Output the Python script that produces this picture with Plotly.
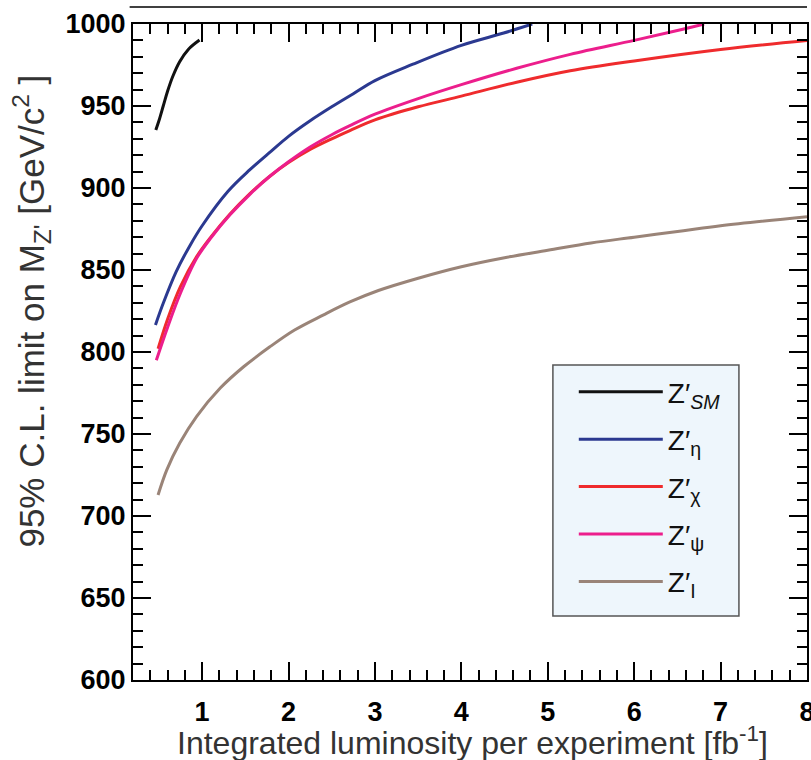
import plotly.graph_objects as go

# ---- data ----
sm_x = [0.464, 0.50, 0.55, 0.60, 0.66, 0.74, 0.84, 0.97]
sm_y = [935.4, 941.0, 950.0, 959.0, 968.0, 977.0, 984.5, 990.2]

eta_x = [0.46, 0.55, 0.70, 0.86, 1.0, 1.3, 1.55, 1.8, 2.0, 2.25, 2.5, 2.75, 3.0, 3.44, 4.0, 4.49, 4.82]
eta_y = [816.5, 829.7, 849.0, 865.0, 877.0, 898.0, 911.0, 922.5, 931.5, 941.0, 949.5, 957.5, 965.5, 975.5, 987.0, 994.5, 1000.0]

chi_x = [0.49, 0.6, 0.75, 0.935, 1.1, 1.32, 1.55, 1.78, 2.0, 2.25, 2.5, 2.71, 3.0, 3.5, 4.0, 4.64, 5.26, 6.0, 7.0, 8.0]
chi_y = [802.0, 820.0, 840.0, 858.0, 870.0, 884.0, 896.5, 907.0, 915.5, 923.5, 930.0, 935.0, 941.5, 949.5, 956.0, 964.5, 971.5, 977.5, 984.5, 990.0]

psi_x = [0.47, 0.6, 0.75, 0.935, 1.1, 1.32, 1.55, 1.78, 2.0, 2.25, 2.5, 2.71, 3.0, 3.5, 4.0, 4.64, 5.26, 6.0, 6.5, 6.81]
psi_y = [795.0, 815.0, 836.0, 857.0, 869.5, 883.5, 896.0, 907.0, 916.0, 925.0, 932.5, 938.0, 945.0, 954.5, 963.0, 973.0, 981.5, 990.0, 996.0, 1000.0]

i_x = [0.49, 0.59, 0.74, 0.935, 1.21, 1.48, 1.78, 2.07, 2.4, 2.71, 3.04, 3.5, 4.0, 4.5, 5.0, 5.5, 6.0, 6.57, 7.0, 8.0]
i_y = [712.8, 728.0, 744.3, 760.6, 778.0, 791.0, 803.0, 813.4, 822.5, 830.5, 837.5, 845.0, 852.0, 857.5, 862.0, 866.5, 870.0, 874.0, 877.0, 882.5]

series_names = ["Z′<sub><i>SM</i></sub>", "Z′<sub>η</sub>", "Z′<sub>χ</sub>", "Z′<sub>ψ</sub>", "Z′<sub>I</sub>"]
series_x = [sm_x, eta_x, chi_x, psi_x, i_x]
series_y = [sm_y, eta_y, chi_y, psi_y, i_y]
series_colors = ["#111111", "#2b3990", "#ef2b2d", "#ec1e8c", "#9a8478"]

x_ticks = [1, 2, 3, 4, 5, 6, 7, 8]
y_ticks = [600, 650, 700, 750, 800, 850, 900, 950, 1000]

x_title = "Integrated luminosity per experiment [fb<sup>-1</sup>]"
y_title = "95% C.L. limit on M<sub>Z'</sub> [GeV/c<sup>2</sup> ]"

fig = go.Figure()
for k, (name, xs, ys, col) in enumerate(zip(series_names, series_x, series_y, series_colors)):
    fig.add_trace(go.Scatter(x=xs, y=ys, mode="lines", name=name, legendgroup=f"g{k}",
                             line=dict(color=col, width=3, shape="spline", smoothing=1.0)))

axis_common = dict(
    showline=True, linecolor="black", linewidth=2, mirror="ticks",
    ticks="inside", ticklen=18, tickwidth=1.8, tickcolor="black",
    showgrid=False, zeroline=False, ticklabeloverflow="allow", automargin=False,
    tickfont=dict(family="Liberation Sans", size=27, color="black", weight="bold"),
)

fig.update_xaxes(range=[0.2, 8.0], tickvals=x_ticks, ticklabelstandoff=7,
                 minor=dict(dtick=0.2, ticks="inside", ticklen=10, tickwidth=1.5, tickcolor="black", showgrid=False),
                 **axis_common)
fig.update_yaxes(range=[600, 1000], tickvals=y_ticks,
                 minor=dict(dtick=10, ticks="inside", ticklen=10, tickwidth=1.5, tickcolor="black", showgrid=False),
                 **axis_common)

# axis titles
fig.add_annotation(text=x_title, xref="paper", yref="paper", x=0.503, y=-0.127,
                   xanchor="center", yanchor="bottom", showarrow=False,
                   font=dict(family="Liberation Sans", size=32, color="#333333"))
fig.add_annotation(text=y_title, xref="paper", yref="paper", x=-0.15, y=0.563, textangle=-90,
                   xanchor="center", yanchor="middle", showarrow=False,
                   font=dict(family="Liberation Sans", size=35, color="#333333"))

# top rule above frame
fig.add_shape(type="line", xref="paper", yref="paper", x0=-0.005, x1=1.0, y0=1.026, y1=1.026,
              line=dict(color="black", width=1.5))
# legend box
fig.add_shape(type="rect", xref="paper", yref="paper", x0=0.623, x1=0.899, y0=0.0976, y1=0.480,
              fillcolor="#eef6fc", line=dict(color="#555555", width=1.5), layer="below")

fig.update_layout(
    width=811, height=760,
    margin=dict(l=133, r=4, t=24, b=80),
    plot_bgcolor="rgba(0,0,0,0)", paper_bgcolor="white",
    showlegend=True,
    legend=dict(x=0.654, y=0.477, xanchor="left", yanchor="top",
                bgcolor="rgba(0,0,0,0)", borderwidth=0,
                traceorder="grouped", tracegroupgap=8,
                font=dict(family="Liberation Sans", size=28, color="#111111"),
                itemwidth=84),
)

fig.write_html("out.html")
